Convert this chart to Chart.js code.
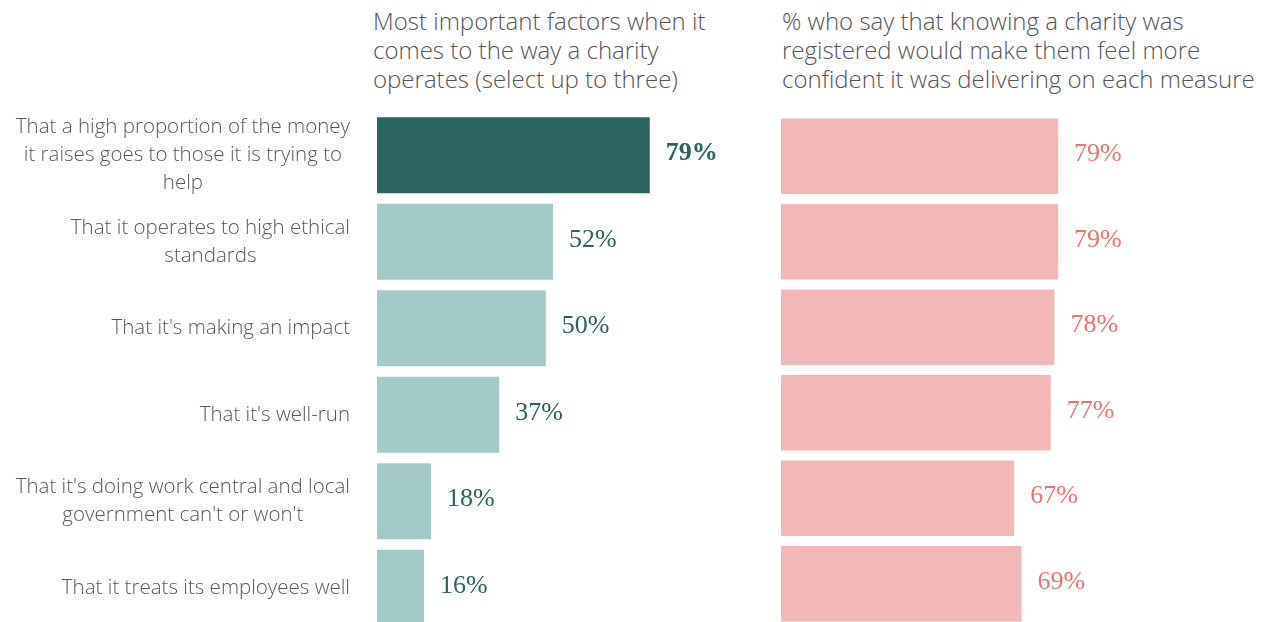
<!DOCTYPE html>
<html>
<head>
<meta charset="utf-8">
<script src="https://cdn.jsdelivr.net/npm/chart.js@4.4.0/dist/chart.umd.min.js"></script>
<style>
  html, body { margin: 0; padding: 0; background: #fff; overflow: hidden; width: 1278px; height: 622px; }
  .title { position: absolute; font-family: 'Open Sans', sans-serif; font-weight: 300; font-size: 24px; line-height: 29px; color: #555; white-space: nowrap; }
  canvas { position: absolute; top: 0; }
</style>
</head>
<body>
<div class="title" style="left:373px; top:6px">Most important factors when it<br>comes to the way a charity<br>operates (select up to three)</div>
<div class="title" style="left:782px; top:6px">% who say that knowing a charity was<br>registered would make them feel more<br>confident it was delivering on each measure</div>
<canvas id="left-chart" style="left:0" width="760" height="640"></canvas>
<canvas id="right-chart" style="left:760px" width="518" height="640"></canvas>
<script>
var factorLabels = [
  ['That a high proportion of the money', 'it raises goes to those it is trying to', 'help'],
  ['That it operates to high ethical', 'standards'],
  ["That it's making an impact"],
  ["That it's well-run"],
  ["That it's doing work central and local", "government can't or won't"],
  ['That it treats its employees well']
];
var importantShare = [79, 52, 50, 37, 18, 16];
var registeredShare = [79, 79, 78, 77, 67, 69];

// labels on the left, lines centred inside a right-aligned block
var factorLabelPlugin = {
  id: 'factorLabels',
  afterDatasetsDraw: function (chart) {
    var ctx = chart.ctx;
    var yScale = chart.scales.y;
    var right = chart.chartArea.left - 27;
    ctx.save();
    ctx.font = '300 20.5px "Open Sans"';
    ctx.fillStyle = '#595959';
    ctx.textAlign = 'center';
    ctx.textBaseline = 'middle';
    factorLabels.forEach(function (lines, i) {
      var w = Math.max.apply(null, lines.map(function (l) { return ctx.measureText(l).width; }));
      var cy = yScale.getPixelForValue(i);
      lines.forEach(function (line, j) {
        ctx.fillText(line, right - w / 2, cy + (j - (lines.length - 1) / 2) * 28);
      });
    });
    ctx.restore();
  }
};

function valueLabelPlugin(color, boldFirst) {
  return {
    id: 'valueLabels',
    afterDatasetsDraw: function (chart) {
      var ctx = chart.ctx;
      var values = chart.data.datasets[0].data;
      ctx.save();
      ctx.fillStyle = color;
      ctx.textAlign = 'left';
      ctx.textBaseline = 'alphabetic';
      chart.getDatasetMeta(0).data.forEach(function (bar, i) {
        ctx.font = (boldFirst && i === 0 ? 'bold 26px' : '26px') + ' "Liberation Serif"';
        ctx.fillText(values[i] + '%', bar.x + 16, bar.y + 5);
      });
      ctx.restore();
    }
  };
}

new Chart(document.getElementById('left-chart'), {
  type: 'bar',
  data: {
    labels: factorLabels,
    datasets: [{
      data: importantShare,
      backgroundColor: function (c) { return c.dataIndex === 0 ? '#2c645f' : '#a3cac6'; },
      barPercentage: 0.877,
      categoryPercentage: 1,
      clip: 0
    }]
  },
  options: {
    indexAxis: 'y',
    responsive: false,
    animation: false,
    layout: { padding: { left: 377, right: 35, top: 112, bottom: 9 } },
    scales: {
      x: { display: false, min: 2.9, max: 100 },
      y: { display: false }
    },
    plugins: { legend: { display: false }, tooltip: { enabled: false } }
  },
  plugins: [factorLabelPlugin, valueLabelPlugin('#2c635d', true)]
});

new Chart(document.getElementById('right-chart'), {
  type: 'bar',
  data: {
    labels: factorLabels,
    datasets: [{
      data: registeredShare,
      backgroundColor: '#f2b8b7',
      barPercentage: 0.883,
      categoryPercentage: 1,
      clip: 0
    }]
  },
  options: {
    indexAxis: 'y',
    responsive: false,
    animation: false,
    layout: { padding: { left: 21, right: 143, top: 113.6, bottom: 13.4 } },
    scales: {
      x: { display: false, min: 3.3, max: 100 },
      y: { display: false }
    },
    plugins: { legend: { display: false }, tooltip: { enabled: false } }
  },
  plugins: [valueLabelPlugin('#e87474', false)]
});
</script>
</body>
</html>
